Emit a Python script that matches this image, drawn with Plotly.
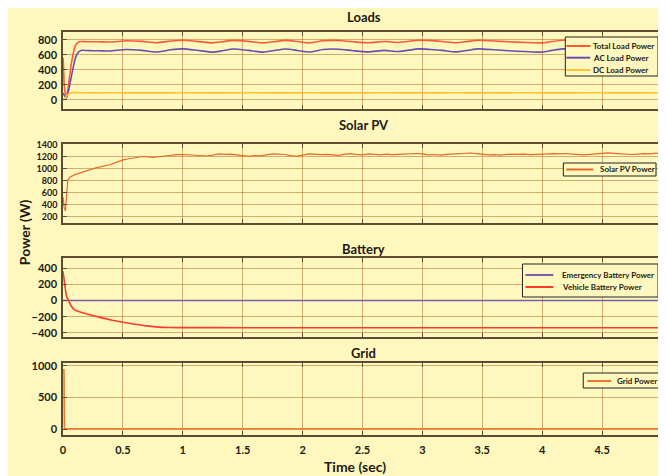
import plotly.graph_objects as go
from plotly.subplots import make_subplots

# ---------------- data ----------------
x_tick_vals = [0, 0.5, 1, 1.5, 2, 2.5, 3, 3.5, 4, 4.5]
x_tick_text = ["0", "0.5", "1", "1.5", "2", "2.5", "3", "3.5", "4", "4.5"]

panel_titles = ["Loads", "Solar PV", "Battery", "Grid"]

# Loads
t_loads = [0, 0.005, 0.01, 0.02, 0.03, 0.05, 0.07, 0.09, 0.1, 0.12, 0.15, 0.2, 0.25,
           0.3, 0.39, 0.53, 0.66, 0.78, 0.9, 1.0, 1.12, 1.25, 1.33,
           1.42, 1.55, 1.67, 1.76, 1.86, 1.96, 2.06, 2.17, 2.3, 2.42,
           2.55, 2.68, 2.8, 2.97, 3.07, 3.17, 3.28, 3.38, 3.47, 3.6,
           3.72, 3.86, 4.0, 4.08, 4.17, 4.3, 4.42, 4.55, 4.68, 4.8,
           4.9, 5.0]
total_load = [560, 420, 200, 80, 60, 250, 490, 650, 710, 760, 778, 775, 776,
              775, 772, 788, 780, 762, 786, 795, 780, 760, 774,
              793, 780, 760, 776, 793, 778, 760, 788, 792, 775,
              762, 778, 766, 795, 790, 778, 762, 780, 795, 785,
              775, 766, 760, 778, 795, 786, 768, 762, 778, 790,
              793, 792]
ac_load = [90, 80, 65, 40, 30, 150, 315, 470, 540, 620, 660, 658, 656,
           655, 652, 672, 660, 638, 668, 680, 662, 637, 655,
           678, 660, 637, 658, 678, 658, 638, 672, 676, 656,
           640, 660, 645, 680, 672, 660, 640, 662, 680, 668,
           655, 645, 638, 660, 680, 670, 648, 640, 660, 675,
           678, 676]
dc_load = [0, 5, 15, 30, 55, 85, 95, 98, 100, 98, 96, 95, 95,
           95, 96, 95, 95, 94, 95, 96, 95, 95, 94,
           95, 96, 95, 95, 94, 95, 96, 95, 95, 94,
           95, 96, 95, 95, 94, 95, 96, 95, 95, 94,
           95, 96, 95, 95, 94, 95, 96, 95, 95, 94,
           95, 96]

# Solar PV
t_solar = [0, 0.005, 0.01, 0.02, 0.025, 0.03, 0.04, 0.06, 0.1, 0.14,
           0.18, 0.22, 0.26, 0.3, 0.35, 0.39, 0.44, 0.5, 0.55, 0.6,
           0.65, 0.7, 0.75, 0.8, 0.85, 0.9, 0.95,
           1.0, 1.05, 1.1, 1.15, 1.2, 1.25, 1.3, 1.35, 1.4, 1.45,
           1.5, 1.55, 1.6, 1.65, 1.7, 1.75, 1.8, 1.85, 1.9, 1.95,
           2.0, 2.05, 2.1, 2.15, 2.2, 2.25, 2.3, 2.35, 2.4, 2.45,
           2.5, 2.55, 2.6, 2.65, 2.7, 2.75, 2.8, 2.85, 2.9, 2.95,
           3.0, 3.05, 3.1, 3.15, 3.2, 3.25, 3.3, 3.35, 3.4, 3.45,
           3.5, 3.55, 3.6, 3.65, 3.7, 3.75, 3.8, 3.85, 3.9, 3.95,
           4.0, 4.05, 4.1, 4.15, 4.2, 4.25, 4.3, 4.35, 4.4, 4.45,
           4.5, 4.55, 4.6, 4.65, 4.7, 4.75, 4.8, 4.85, 4.9, 4.95,
           5.0]
solar_pv = [530, 450, 350, 300, 420, 650, 810, 860, 900, 926,
            955, 980, 1005, 1025, 1045, 1065, 1100, 1145, 1165, 1182,
            1198, 1200, 1188, 1198, 1212, 1222, 1232,
            1235, 1228, 1232, 1222, 1210, 1225, 1245, 1238, 1242, 1230,
            1215, 1205, 1218, 1212, 1230, 1245, 1240, 1235, 1215, 1205,
            1225, 1245, 1240, 1232, 1238, 1230, 1222, 1240, 1250, 1238,
            1230, 1245, 1235, 1228, 1240, 1232, 1238, 1245, 1240, 1252,
            1245, 1230, 1235, 1225, 1238, 1245, 1240, 1255, 1260, 1250,
            1240, 1228, 1232, 1225, 1238, 1242, 1235, 1240, 1232, 1238,
            1245, 1240, 1250, 1245, 1252, 1240, 1235, 1228, 1238, 1250,
            1258, 1262, 1255, 1248, 1240, 1235, 1242, 1250, 1245, 1258,
            1252]

# Battery
t_batt = [0, 0.01, 0.02, 0.03, 0.05, 0.07, 0.09, 0.12, 0.15, 0.2,
          0.25, 0.3, 0.4, 0.5, 0.6, 0.7, 0.8, 0.9, 1.0, 1.5,
          2.0, 2.5, 3.0, 3.5, 4.0, 4.5, 5.0]
vehicle_batt = [360, 250, 140, 50, -10, -70, -105, -130, -145, -165,
                -185, -205, -240, -268, -292, -313, -328, -333, -334, -335,
                -335, -335, -335, -335, -335, -335, -335]
t_emerg = [0, 5.0]
emergency_batt = [0, 0]

# Grid
t_grid = [0, 0.008, 0.012, 0.02, 5.0]
grid_power = [940, 940, 10, 5, 5]

# ---------------- styling ----------------
OFF = 8                      # page body margin (px)
W, H = 666 - OFF, 476 - OFF  # figure size inside the page
ML, MR, MT, MB = 55, 2, 24, 41
PW = W - ML - MR
PH = H - MT - MB


def fx(px):  # page pixel x -> paper fraction
    return (px - OFF - ML) / PW


def fy(py):  # page pixel y -> paper fraction
    return (H - MB - (py - OFF)) / PH


BG = '#FFF8BE'
GRID = 'rgba(175,110,45,0.55)'
FRAME = '#5E4B30'
TXT = '#1E1A14'
FONT = 'Lato'

C_TOTAL = '#FF5A36'
C_AC = '#6650B0'
C_DC = '#FFC233'
C_SOLAR = '#E8692A'
C_EMERG = '#7460AA'
C_VEH = '#FF3B2A'
C_GRID = '#F07A30'

panel_px = [(32, 109), (144, 223), (258, 337), (363, 435)]
y_ranges = [[-120, 905], [95, 1410], [-450, 525], [-95, 1047]]
y_ticks = [[0, 200, 400, 600, 800],
           [200, 400, 600, 800, 1000, 1200, 1400],
           [-400, -200, 0, 200, 400],
           [0, 500, 1000]]
y_tick_size = [11, 9, 11, 11]
title_py = [17, 125, 249, 353]

fig = make_subplots(rows=4, cols=1)

sm = dict(shape='spline', smoothing=0.6)
fig.add_trace(go.Scatter(x=t_loads, y=total_load, mode='lines', name='Total Load Power',
                         line=dict(color=C_TOTAL, width=1.6, **sm)), row=1, col=1)
fig.add_trace(go.Scatter(x=t_loads, y=ac_load, mode='lines', name='AC Load Power',
                         line=dict(color=C_AC, width=1.6, **sm)), row=1, col=1)
fig.add_trace(go.Scatter(x=t_loads, y=dc_load, mode='lines', name='DC Load Power',
                         line=dict(color=C_DC, width=1.6, **sm)), row=1, col=1)
fig.add_trace(go.Scatter(x=t_solar, y=solar_pv, mode='lines', name='Solar PV Power',
                         line=dict(color=C_SOLAR, width=1.2)), row=2, col=1)
fig.add_trace(go.Scatter(x=t_emerg, y=emergency_batt, mode='lines', name='Emergency Battery Power',
                         line=dict(color=C_EMERG, width=1.6)), row=3, col=1)
fig.add_trace(go.Scatter(x=t_batt, y=vehicle_batt, mode='lines', name='Vehicle Battery Power',
                         line=dict(color=C_VEH, width=1.6, **sm)), row=3, col=1)
fig.add_trace(go.Scatter(x=t_grid, y=grid_power, mode='lines', name='Grid Power',
                         line=dict(color=C_GRID, width=1.6)), row=4, col=1)

for i in range(4):
    top, bot = panel_px[i]
    fig.update_xaxes(row=i + 1, col=1, domain=[0, 1], range=[0, 5],
                     tickmode='array', tickvals=x_tick_vals, ticktext=x_tick_text,
                     showticklabels=(i == 3), showgrid=True, gridcolor=GRID, gridwidth=1,
                     showline=True, linecolor=FRAME, linewidth=1.5, mirror='ticks',
                     ticks='inside', ticklen=4, tickcolor=FRAME, zeroline=False,
                     ticklabelstandoff=4,
                     tickfont=dict(family=FONT, size=11, color=TXT, weight='bold'))
    fig.update_yaxes(row=i + 1, col=1, domain=[fy(bot), fy(top)], range=y_ranges[i],
                     tickmode='array', tickvals=y_ticks[i],
                     showgrid=True, gridcolor=GRID, gridwidth=1,
                     showline=True, linecolor=FRAME, linewidth=1.5, mirror='ticks',
                     ticks='inside', ticklen=4, tickcolor=FRAME, zeroline=False,
                     ticklabelstandoff=2,
                     tickfont=dict(family=FONT, size=y_tick_size[i], color=TXT, weight='bold'))

annotations = []
for i in range(4):
    annotations.append(dict(x=fx(365), y=fy(title_py[i]), xref='paper', yref='paper',
                            text=panel_titles[i], showarrow=False, xanchor='center', yanchor='middle',
                            font=dict(family=FONT, size=13, color=TXT, weight='bold')))
annotations.append(dict(x=fx(356), y=fy(466), xref='paper', yref='paper', text='Time (sec)',
                        showarrow=False, xanchor='center', yanchor='middle',
                        font=dict(family=FONT, size=14, color=TXT, weight='bold')))
annotations.append(dict(x=fx(24), y=fy(232), xref='paper', yref='paper', text='Power (W)',
                        showarrow=False, xanchor='center', yanchor='middle', textangle=-90,
                        font=dict(family=FONT, size=14, color=TXT, weight='bold')))

shapes = []

# legend boxes: (box x0,y0,x1,y1), line x0,x1, text x, font size, entries (y, label, color)
legends = [
    ((567, 37, 660, 76), 568, 592, 593, 8,
     [(46, 'Total Load Power', C_TOTAL), (57.7, 'AC Load Power', C_AC), (70, 'DC Load Power', C_DC)]),
    ((565, 163, 658, 176), 568, 595, 600, 8, [(169.5, 'Solar PV Power', C_SOLAR)]),
    ((524, 264, 660, 297), 527, 555, 562, 8,
     [(275, 'Emergency Battery Power', C_EMERG), (287, 'Vehicle Battery Power', C_VEH)]),
    ((585, 373, 661, 388), 589, 613, 617, 8, [(381, 'Grid Power', C_GRID)]),
]
for box, lx0, lx1, tx, fsize, entries in legends:
    bx0, by0, bx1, by1 = box
    shapes.append(dict(type='rect', xref='paper', yref='paper', x0=fx(bx0), x1=fx(bx1),
                       y0=fy(by1), y1=fy(by0), fillcolor=BG, line=dict(color='#222222', width=1)))
    for ey, label, col in entries:
        shapes.append(dict(type='line', xref='paper', yref='paper', x0=fx(lx0), x1=fx(lx1),
                           y0=fy(ey), y1=fy(ey), line=dict(color=col, width=2)))
        annotations.append(dict(x=fx(tx), y=fy(ey), xref='paper', yref='paper', text=label,
                                showarrow=False, xanchor='left', yanchor='middle',
                                font=dict(family=FONT, size=fsize, color=TXT, weight='bold')))

fig.update_layout(width=W, height=H, margin=dict(l=ML, r=MR, t=MT, b=MB),
                  paper_bgcolor=BG, plot_bgcolor=BG, showlegend=False,
                  annotations=annotations, shapes=shapes,
                  font=dict(family=FONT, color=TXT))

fig.write_html("out.html")
